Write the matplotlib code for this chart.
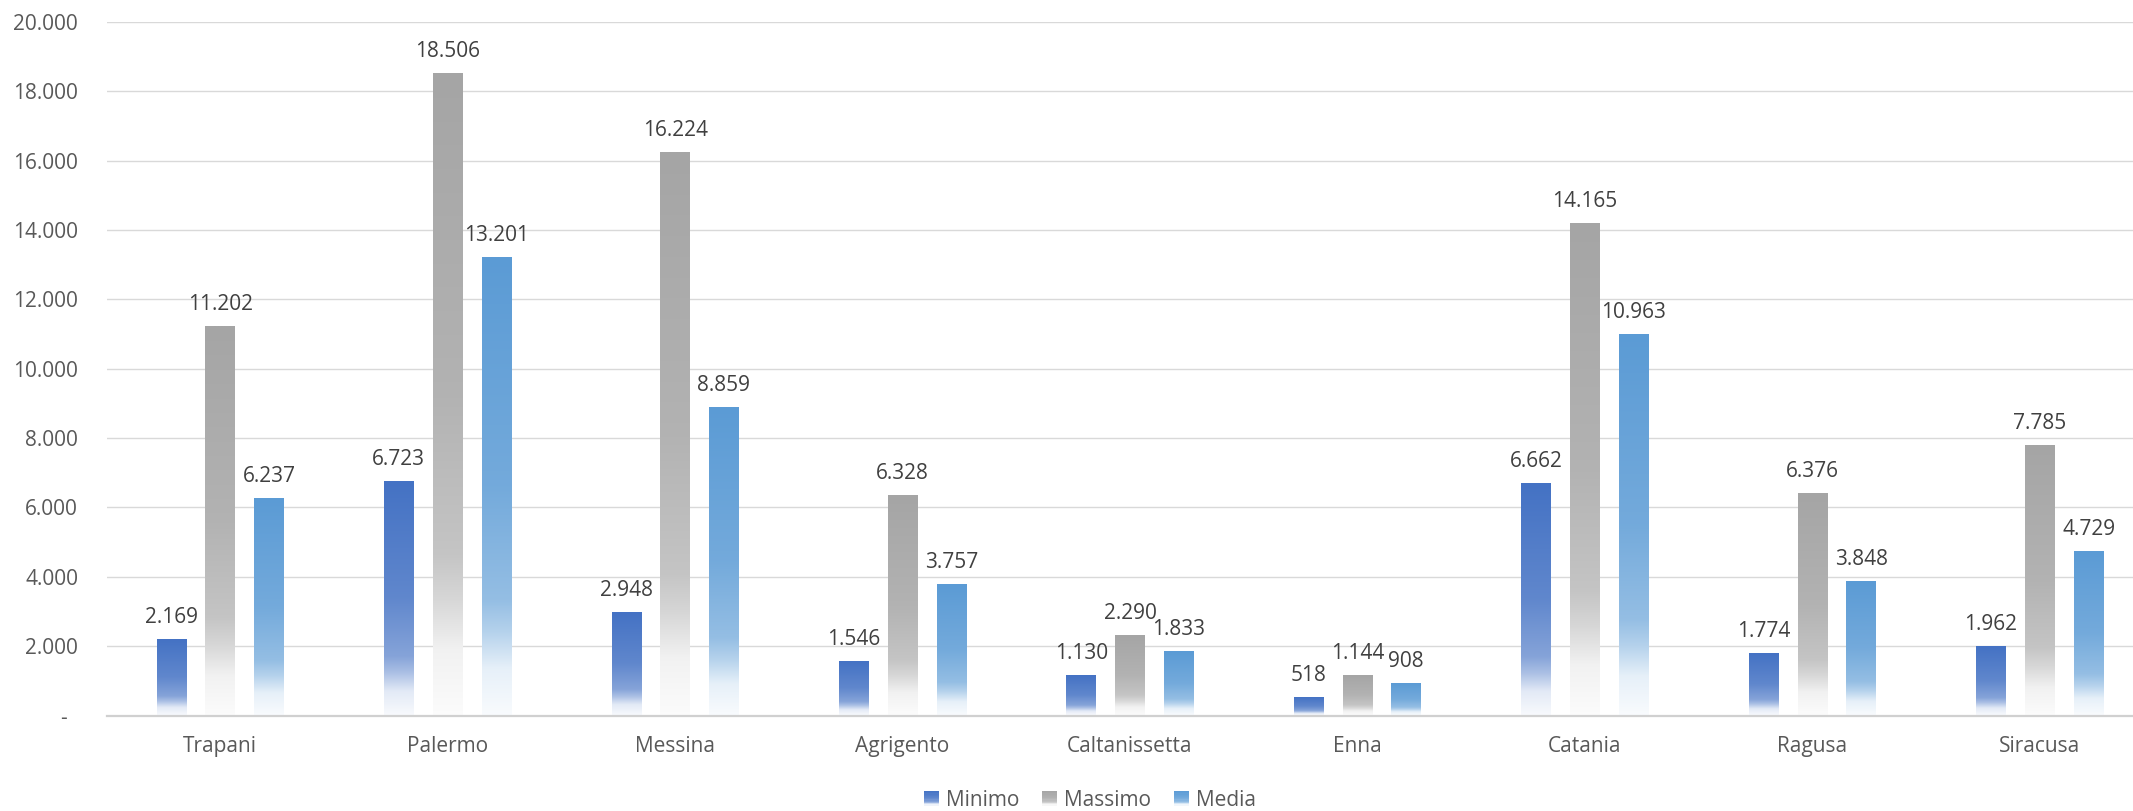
import numpy as np
import matplotlib
matplotlib.use("Agg")
import matplotlib.pyplot as plt
from matplotlib.colors import to_rgb
from matplotlib.patches import Rectangle
from matplotlib.legend_handler import HandlerPatch
from matplotlib.ticker import FuncFormatter, MultipleLocator

# Province data
province = ["Trapani", "Palermo", "Messina", "Agrigento", "Caltanissetta",
            "Enna", "Catania", "Ragusa", "Siracusa"]
minimo = [2169, 6723, 2948, 1546, 1130, 518, 6662, 1774, 1962]
massimo = [11202, 18506, 16224, 6328, 2290, 1144, 14165, 6376, 7785]
media = [6237, 13201, 8859, 3757, 1833, 908, 10963, 3848, 4729]

series_names = ["Minimo", "Massimo", "Media"]
series_values = [minimo, massimo, media]
series_colors = ["#4472C4", "#A5A5A5", "#5B9BD5"]

plt.rcParams["font.family"] = ["Open Sans", "DejaVu Sans"]
FS = 15
TICK_COLOR = "#595959"
LABEL_COLOR = "#404040"

fig = plt.figure(figsize=(21.33, 8.11), dpi=100)
ax = fig.add_axes([106.5 / 2133, 1 - 715.5 / 811, 2047 / 2133, 693.5 / 811])

# fade-to-white profile along a bar, t=0 at top, t=1 at the base
stops_t = [0.0, 0.5, 0.75, 0.82, 0.9, 1.0]
stops_w = [0.0, 0.15, 0.35, 0.55, 0.85, 0.96]


def gradient_image(color, n=256):
    c = np.array(to_rgb(color))
    t = np.linspace(0, 1, n)
    w = np.interp(t, stops_t, stops_w)[:, None]
    rgb = c[None, :] * (1 - w) + w
    return rgb[:, None, :]


x = np.arange(len(province))
width = 0.13
step = 0.2146
for i, (vals, col) in enumerate(zip(series_values, series_colors)):
    bars = ax.bar(x + (i - 1) * step, vals, width, color="none", linewidth=0, zorder=2)
    for rect, v in zip(bars, vals):
        x0, w = rect.get_x(), rect.get_width()
        h = rect.get_height()
        ax.imshow(gradient_image(col), extent=(x0, x0 + w, 0, h), aspect="auto",
                  origin="upper", zorder=2, interpolation="bilinear")
        ax.annotate(f"{v:,}".replace(",", "."), (x0 + w / 2, h),
                    xytext=(0, 17), textcoords="offset pixels",
                    ha="center", va="baseline", fontsize=FS, color=LABEL_COLOR)

ax.set_xlim(-0.5, len(province) - 0.5)
ax.set_ylim(0, 20000)
ax.yaxis.set_major_locator(MultipleLocator(2000))


def fmt(v, pos):
    if v == 0:
        return "-  "
    return f"{int(v):,}".replace(",", ".")


ax.yaxis.set_major_formatter(FuncFormatter(fmt))
ax.set_xticks(x)
ax.set_xticklabels(province)
ax.tick_params(axis="x", length=0, pad=15, labelsize=FS, labelcolor=TICK_COLOR)
ax.tick_params(axis="y", length=0, pad=20.5, labelsize=FS, labelcolor=TICK_COLOR)

ax.grid(axis="y", color="#D9D9D9", linewidth=1.0, zorder=0)
ax.set_axisbelow(True)
for s in ["top", "right", "left"]:
    ax.spines[s].set_visible(False)
ax.spines["bottom"].set_color("#D0D0D0")
ax.spines["bottom"].set_linewidth(1.6)
ax.spines["bottom"].set_zorder(3)


class GradientSquare(HandlerPatch):
    def create_artists(self, legend, orig_handle, xdescent, ydescent, width, height,
                       fontsize, trans):
        col = orig_handle.get_facecolor()
        size = min(width, height)
        x0 = -xdescent + (width - size) / 2
        y0 = -ydescent + (height - size) / 2
        n = 12
        c = np.array(col[:3])
        arts = []
        for k in range(n):
            t = 1 - (k + 0.5) / n
            wgt = np.interp(t, stops_t, stops_w)
            r = Rectangle((x0, y0 + k * size / n), size, size / n + 0.05,
                          facecolor=c * (1 - wgt) + wgt, edgecolor="none",
                          transform=trans)
            arts.append(r)
        return arts


handles = [Rectangle((0, 0), 1, 1, facecolor=c) for c in series_colors]
leg = fig.legend(handles, series_names, loc="center", bbox_to_anchor=(1090 / 2133, 1 - 800 / 811),
                 ncol=3, frameon=False, fontsize=FS, handlelength=0.7, handleheight=0.7,
                 handletextpad=0.35, columnspacing=1.1,
                 handler_map={Rectangle: GradientSquare()})
for t in leg.get_texts():
    t.set_color(TICK_COLOR)

fig.savefig("out.png", dpi=100, facecolor="white")
